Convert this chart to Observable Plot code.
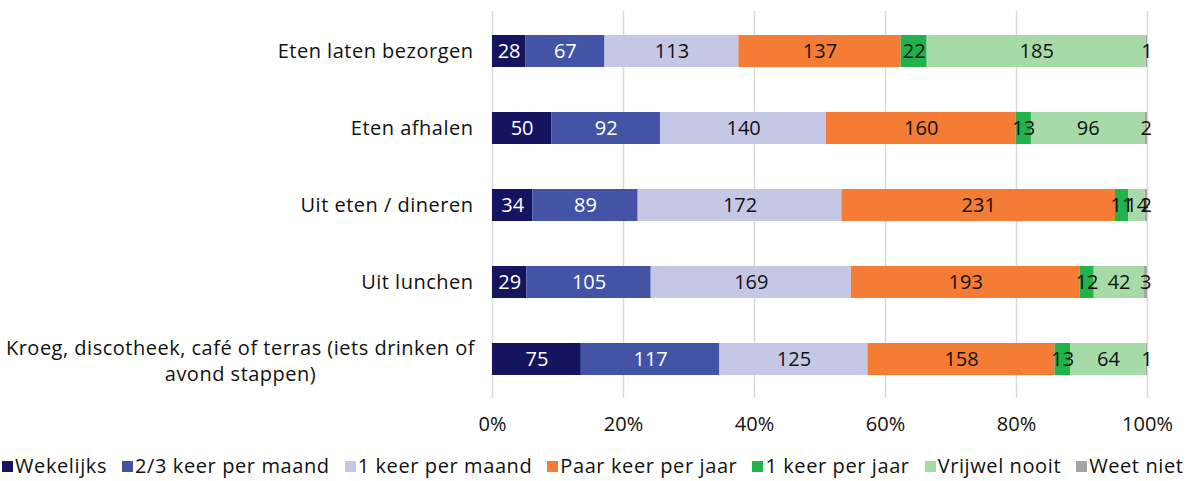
<!DOCTYPE html>
<html>
<head>
<meta charset="utf-8">
<script src="https://cdn.jsdelivr.net/npm/d3@7"></script>
<script src="https://cdn.jsdelivr.net/npm/@observablehq/plot@0.6"></script>
<style>
  html, body { margin: 0; padding: 0; background: #fff; }
  body { width: 1196px; height: 481px; overflow: hidden; font-family: "Open Sans", sans-serif; }
  g[aria-label="y-axis tick label"] { letter-spacing: 0.5px; }
  #legend { display: flex; gap: 15px; margin-left: 2px; margin-top: 14px; font-size: 20px; letter-spacing: 0.6px; color: #111; white-space: nowrap; line-height: 24px; }
  #legend .item { display: flex; align-items: center; gap: 2px; }
  #legend .sw { width: 11px; height: 11px; display: inline-block; }
</style>
</head>
<body>
<div id="chart"></div>
<div id="legend"></div>
<script>
const categories = [
  "Eten laten bezorgen",
  "Eten afhalen",
  "Uit eten / dineren",
  "Uit lunchen",
  "Kroeg, discotheek, café of terras (iets drinken of avond stappen)"
];
const seriesNames = ["Wekelijks", "2/3 keer per maand", "1 keer per maand", "Paar keer per jaar", "1 keer per jaar", "Vrijwel nooit", "Weet niet"];
const seriesColors = ["#14155e", "#4353a6", "#c5c8e5", "#f47c35", "#21b24b", "#a6dba8", "#a5a5a5"];
const textColors = ["#ffffff", "#ffffff", "#111111", "#111111", "#111111", "#111111", "#111111"];
const wekelijks   = [28, 50, 34, 29, 75];
const tweeDrie    = [67, 92, 89, 105, 117];
const eenMaand    = [113, 140, 172, 169, 125];
const paarJaar    = [137, 160, 231, 193, 158];
const eenJaar     = [22, 13, 11, 12, 13];
const vrijwelNooit= [185, 96, 14, 42, 64];
const weetNiet    = [1, 2, 2, 3, 1];
const xTicks = [0, 0.2, 0.4, 0.6, 0.8, 1];

const seriesValues = [wekelijks, tweeDrie, eenMaand, paarJaar, eenJaar, vrijwelNooit, weetNiet];
const data = [];
seriesNames.forEach((s, si) => {
  categories.forEach((c, ci) => {
    data.push({category: c, series: s, value: seriesValues[si][ci], tcolor: textColors[si]});
  });
});

const longLabel = categories[4];
const font = "Open Sans, sans-serif";

const chart = Plot.plot({
  width: 1196,
  height: 440,
  marginLeft: 492,
  marginRight: 49,
  marginTop: 11,
  marginBottom: 42,
  style: {fontFamily: font, fontSize: "20px", color: "#111", background: "#fff"},
  x: {domain: [0, 1], ticks: xTicks, tickFormat: d => Math.round(d * 100) + "%", label: null},
  y: {domain: categories, label: null, paddingInner: 0.585, paddingOuter: 0.2925},
  color: {domain: seriesNames, range: seriesColors},
  marks: [
    Plot.ruleX(xTicks, {stroke: "#d9d9d9", strokeWidth: 1.5}),
    Plot.barX(data, Plot.stackX({x: "value", y: "category", fill: "series", offset: "normalize", order: seriesNames})),
    Plot.text(data, Plot.stackX({x: "value", y: "category", z: "series", text: d => String(d.value), fill: "tcolor", offset: "normalize", order: seriesNames, fontSize: 20, fontFamily: font})),
    Plot.axisX({ticks: xTicks, tickFormat: d => Math.round(d * 100) + "%", tickSize: 0, tickPadding: 18, fontSize: 20, label: null}),
    Plot.axisY(categories.slice(0, 4), {tickSize: 0, tickPadding: 19, fontSize: 20, label: null}),
    Plot.axisY([longLabel], {tickSize: 0, tickPadding: 19, fontSize: 20, label: null, textAnchor: "middle", dx: -233, lineHeight: 1.3,
      tickFormat: () => "Kroeg, discotheek, café of terras (iets drinken of\navond stappen)"})
  ]
});
document.getElementById("chart").appendChild(chart);

const legend = document.getElementById("legend");
seriesNames.forEach((s, i) => {
  const item = document.createElement("span");
  item.className = "item";
  const sw = document.createElement("span");
  sw.className = "sw";
  sw.style.background = seriesColors[i];
  const t = document.createElement("span");
  t.textContent = s;
  item.appendChild(sw);
  item.appendChild(t);
  legend.appendChild(item);
});
</script>
</body>
</html>
